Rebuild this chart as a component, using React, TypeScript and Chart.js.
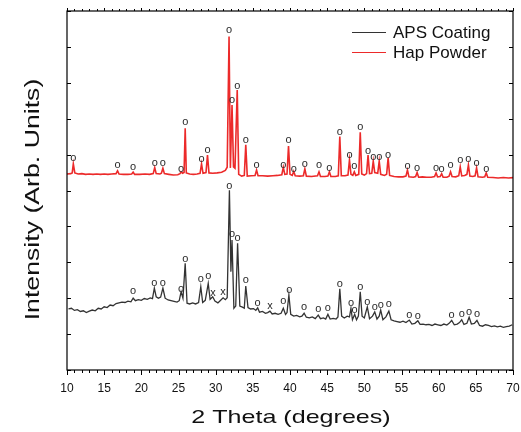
import React, { useEffect, useRef } from "react";
import { Chart, registerables } from "chart.js";

Chart.register(...registerables);

// ---------- data ----------
const xTicksMajor = [10, 15, 20, 25, 30, 35, 40, 45, 50, 55, 60, 65, 70];

const apsTheta = [
  10.2, 10.6, 11.0, 11.4, 11.8, 12.2, 12.6, 13.0, 13.4, 13.8, 14.2, 14.6, 15.0, 15.4, 15.8, 16.2, 16.6, 17.0,
  17.4, 17.8, 18.2, 18.6, 18.9, 19.2, 19.6, 20.0, 20.4, 20.8, 21.2, 21.5, 21.75, 22.0, 22.3, 22.6, 22.9, 23.2,
  23.6, 24.0, 24.4, 24.8, 25.1, 25.35, 25.6, 25.9, 26.15, 26.5, 26.9, 27.3, 27.7, 28.0, 28.25, 28.6, 29.0, 29.25,
  29.6, 29.9, 30.3, 30.6, 31.0, 31.3, 31.55, 31.85, 32.05, 32.2, 32.45, 32.7, 32.95, 33.25, 33.6, 33.85, 34.05,
  34.35, 34.7, 35.1, 35.4, 35.65, 35.9, 36.3, 36.7, 37.0, 37.3, 37.6, 38.0, 38.4, 38.8, 39.1, 39.4, 39.6, 39.85,
  40.1, 40.5, 40.9, 41.3, 41.6, 41.9, 42.2, 42.6, 43.0, 43.4, 43.8, 44.1, 44.5, 44.8, 45.1, 45.4, 45.8, 46.2,
  46.45, 46.7, 46.95, 47.3, 47.7, 48.0, 48.2, 48.4, 48.7, 48.95, 49.2, 49.45, 49.7, 50.0, 50.4, 50.7, 51.1, 51.4,
  51.7, 52.0, 52.2, 52.5, 52.9, 53.3, 53.6, 54.0, 54.4, 54.8, 55.2, 55.6, 56.05, 56.4, 56.8, 57.2, 57.5, 57.9,
  58.3, 58.7, 59.1, 59.5, 59.9, 60.3, 60.7, 61.1, 61.4, 61.75, 62.1, 62.5, 62.8, 63.1, 63.4, 63.8, 64.1, 64.4,
  64.8, 65.15, 65.5, 65.9, 66.3, 66.7, 67.1, 67.5, 67.9, 68.3, 68.7, 69.1, 69.5, 69.9,
];
const apsIntensity = [
  170, 172, 166, 168, 163, 165, 160, 164, 167, 165, 172, 170, 176, 174, 181, 179, 185, 187,
  189, 188, 192, 190, 200, 193, 196, 194, 199, 197, 201, 199, 228, 204, 200, 203, 228, 200,
  195, 193, 191, 189, 193, 218, 200, 297, 186, 184, 187, 184, 188, 232, 188, 194, 241, 197,
  204, 192, 187, 193, 201, 196, 201, 501, 274, 362, 172, 178, 353, 178, 175, 172, 234,
  174, 170, 171, 166, 173, 161, 163, 158, 160, 164, 156, 158, 155, 158, 172, 155, 160, 209,
  155, 150, 152, 148, 150, 158, 147, 145, 148, 143, 153, 143, 145, 142, 155, 142, 144, 142,
  148, 226, 150, 145, 150, 148, 172, 140, 155, 140, 150, 218, 150, 145, 176, 143, 150, 162,
  142, 150, 167, 140, 148, 164, 140, 137, 135, 133, 136, 132, 139, 128, 130, 137, 127, 128,
  126, 127, 124, 128, 126, 124, 128, 125, 130, 138, 126, 128, 132, 140, 127, 130, 147, 128,
  130, 138, 124, 122, 126, 124, 121, 123, 120, 122, 119, 121, 122, 126,
];

const hapTheta = [
  10.0, 10.5, 10.7, 10.85, 11.05, 11.5, 12.0, 12.5, 13.0, 13.5, 14.0, 14.5, 15.0, 15.5, 16.0, 16.6, 16.8, 17.0,
  17.6, 18.2, 18.7, 18.9, 19.1, 19.8, 20.5, 21.1, 21.6, 21.8, 22.0, 22.5, 22.7, 22.9, 23.1, 23.7, 24.3, 24.9,
  25.2, 25.35, 25.55, 25.75, 25.9, 26.05, 26.5, 27.0, 27.5, 27.9, 28.1, 28.3, 28.7, 28.9, 29.1, 29.6, 30.2, 30.8,
  31.3, 31.55, 31.8, 31.98, 32.2, 32.4, 32.6, 32.9, 33.1, 33.5, 33.85, 34.05, 34.25, 34.8, 35.3, 35.5, 35.7, 36.3,
  37.0, 37.7, 38.3, 38.9, 39.1, 39.3, 39.6, 39.8, 40.0, 40.3, 40.5, 40.7, 41.3, 41.8, 42.0, 42.2, 42.9, 43.7,
  43.9, 44.1, 44.7, 45.1, 45.3, 45.5, 46.1, 46.5, 46.7, 46.9, 47.4, 47.8, 48.0, 48.2, 48.45, 48.65, 48.85, 49.25,
  49.45, 49.65, 50.0, 50.3, 50.5, 50.7, 51.0, 51.2, 51.4, 51.8, 52.0, 52.2, 52.7, 53.0, 53.2, 53.4, 54.0, 54.6,
  55.2, 55.6, 55.8, 56.0, 56.6, 56.9, 57.1, 57.3, 57.8, 58.4, 59.0, 59.45, 59.65, 59.85, 60.2, 60.4, 60.6, 61.1,
  61.4, 61.6, 61.8, 62.3, 62.7, 62.9, 63.1, 63.5, 63.8, 64.0, 64.2, 64.6, 64.9, 65.1, 65.3, 65.9, 66.2, 66.4,
  66.6, 67.3, 68.0, 68.7, 69.4, 70.0,
];
const hapIntensity = [
  546, 547, 549, 574, 549, 546, 547, 545, 546, 545, 546, 545, 546, 545, 546, 547, 555, 546,
  545, 545, 546, 551, 545, 545, 546, 545, 547, 564, 547, 546, 548, 562, 547, 545, 543, 544,
  547, 552, 548, 550, 673, 549, 546, 545, 546, 548, 574, 548, 550, 599, 549, 548, 549, 551,
  556, 565, 929, 563, 738, 566, 562, 780, 545, 540, 542, 627, 540, 541, 542, 557, 541, 541,
  540, 541, 542, 544, 565, 545, 546, 624, 545, 542, 553, 541, 540, 541, 560, 540, 539, 541,
  552, 539, 539, 540, 552, 539, 539, 541, 650, 541, 541, 543, 585, 545, 542, 552, 542, 545,
  662, 546, 543, 547, 599, 547, 548, 582, 550, 548, 582, 545, 542, 545, 591, 542, 539, 538,
  538, 540, 557, 538, 537, 539, 550, 537, 538, 537, 537, 539, 549, 538, 539, 547, 537, 537,
  540, 552, 539, 538, 541, 566, 541, 542, 545, 571, 540, 539, 541, 563, 538, 537, 538, 549,
  537, 536, 535, 536, 535, 536,
];

// peak identification marks ("o" = HAp, "x" = other phase)
const hapMarkTheta = [
  10.85, 16.8, 18.9, 21.8, 22.9, 25.35, 25.9, 28.1, 28.9, 31.8, 32.2, 32.9, 34.05, 35.5, 39.1, 39.8, 40.5, 42.0, 43.9,
  45.3, 46.7, 48.0, 48.65, 49.45, 50.5, 51.2, 52.0, 53.2, 55.8, 57.1, 59.65, 60.4, 61.6, 62.9, 64.0, 65.1, 66.4,
];
const hapMarkValue = [
  591, 571, 566, 577, 577, 560, 691, 588, 613, 947, 752, 791, 641, 571, 571, 641, 560, 574, 571,
  563, 663, 599, 568, 677, 610, 593, 593, 599, 568, 563, 563, 560, 571, 585, 588, 577, 560,
];
const apsMarkTheta = [
  18.9, 21.75, 22.9, 25.35, 25.9, 28.0, 29.0, 29.65, 31.0, 31.85, 32.2, 32.95, 34.05, 35.65, 37.3, 39.1, 39.9, 41.9,
  43.8, 45.1, 46.7, 48.2, 48.7, 49.45, 50.4, 51.4, 52.2, 53.3, 56.05, 57.2, 61.75, 63.1, 64.1, 65.15,
];
const apsMarkValue = [
  220, 243, 243, 226, 309, 254, 262, 215, 217, 513, 379, 369, 251, 187, 178, 192, 223, 176,
  170, 173, 240, 187, 168, 231, 189, 176, 180, 184, 154, 150, 154, 156, 162, 156,
];
const apsMarkSymbol = [
  "o", "o", "o", "o", "o", "o", "o", "x", "x", "o", "o", "o", "o", "o", "x", "o", "o", "o",
  "o", "o", "o", "o", "o", "o", "o", "o", "o", "o", "o", "o", "o", "o", "o", "o",
];

const seriesNames = ["APS Coating", "Hap Powder"];
const seriesColors = ["#333333", "#ec2a2a"];
const xTitle = "2 Theta (degrees)";
const yTitle = "Intensity (Arb. Units)";

const FONT = "'Liberation Sans', Arial, sans-serif";

const decorPlugin = {
  id: "decor",
  afterDatasetsDraw(chart: any) {
    const ctx = chart.ctx;
    const xs = chart.scales.x;
    const ys = chart.scales.y;
    ctx.save();
    ctx.font = `11px ${FONT}`;
    ctx.fillStyle = "#2a2a2a";
    ctx.textAlign = "center";
    ctx.textBaseline = "middle";
    hapMarkTheta.forEach((t, i) => {
      ctx.fillText("o", xs.getPixelForValue(t), ys.getPixelForValue(hapMarkValue[i]));
    });
    apsMarkTheta.forEach((t, i) => {
      ctx.fillText(apsMarkSymbol[i], xs.getPixelForValue(t), ys.getPixelForValue(apsMarkValue[i]));
    });
    ctx.restore();
  },
  afterDraw(chart: any) {
    const ctx = chart.ctx;
    const xs = chart.scales.x;
    const ys = chart.scales.y;
    const { left, right, top, bottom } = chart.chartArea;
    ctx.save();
    ctx.strokeStyle = "#000";
    ctx.lineWidth = 1.2;
    ctx.strokeRect(left, top, right - left, bottom - top);
    ctx.lineWidth = 1;
    ctx.beginPath();
    for (let v = 10; v <= 70; v += 1) {
      const px = Math.round(xs.getPixelForValue(v)) + 0.5;
      const major = xTicksMajor.includes(v);
      ctx.moveTo(px, bottom);
      ctx.lineTo(px, bottom + (major ? 5 : 3));
      ctx.moveTo(px, top);
      ctx.lineTo(px, top - (major ? 3 : 2));
    }
    for (let v = 0; v <= 1000; v += 100) {
      const py = Math.round(ys.getPixelForValue(v)) + 0.5;
      ctx.moveTo(left, py);
      ctx.lineTo(left + 4, py);
      ctx.moveTo(right, py);
      ctx.lineTo(right - 4, py);
    }
    ctx.stroke();

    // legend
    const lx0 = right - 161;
    const lx1 = right - 127;
    const lyFirst = top + 21;
    seriesNames.forEach((name, i) => {
      const y = lyFirst + i * 20;
      ctx.strokeStyle = seriesColors[i];
      ctx.lineWidth = 1.2;
      ctx.beginPath();
      ctx.moveTo(lx0, y + 0.5);
      ctx.lineTo(lx1, y + 0.5);
      ctx.stroke();
      ctx.fillStyle = "#111";
      ctx.font = `17px ${FONT}`;
      ctx.textAlign = "left";
      ctx.textBaseline = "alphabetic";
      ctx.fillText(name, lx1 + 7, y + 6);
    });

    // axis titles
    ctx.fillStyle = "#111";
    ctx.textAlign = "center";
    ctx.textBaseline = "alphabetic";
    ctx.save();
    ctx.translate((left + right) / 2 + 1, bottom + 53);
    ctx.scale(1.32, 1);
    ctx.font = `19px ${FONT}`;
    ctx.fillText(xTitle, 0, 0);
    ctx.restore();
    ctx.save();
    ctx.translate(39, (top + bottom) / 2 + 9);
    ctx.rotate(-Math.PI / 2);
    ctx.scale(1.27, 1);
    ctx.font = `21px ${FONT}`;
    ctx.fillText(yTitle, 0, 0);
    ctx.restore();
    ctx.restore();
  },
};

export default function App() {
  const ref = useRef<HTMLCanvasElement | null>(null);
  useEffect(() => {
    document.body.style.margin = "0";
    if (!ref.current) return;
    const chart = new Chart(ref.current, {
      type: "line",
      data: {
        datasets: [
          {
            label: seriesNames[0],
            data: apsTheta.map((t, i) => ({ x: t, y: apsIntensity[i] })),
            borderColor: seriesColors[0],
            borderWidth: 1.3,
            pointRadius: 0,
            tension: 0,
          },
          {
            label: seriesNames[1],
            data: hapTheta.map((t, i) => ({ x: t, y: hapIntensity[i] })),
            borderColor: seriesColors[1],
            borderWidth: 1.6,
            pointRadius: 0,
            tension: 0,
          },
        ],
      },
      options: {
        animation: false,
        responsive: false,
        devicePixelRatio: 1,
        layout: { padding: { left: 67, right: 8, top: 11, bottom: 0 } },
        plugins: { legend: { display: false }, tooltip: { enabled: false } },
        scales: {
          x: {
            type: "linear",
            min: 10,
            max: 70,
            grid: { display: false, drawTicks: false },
            border: { display: false },
            ticks: {
              stepSize: 5,
              padding: 11,
              color: "#111",
              font: { size: 12, family: FONT },
              maxRotation: 0,
              autoSkip: false,
            },
            afterFit: (s: any) => {
              s.height = 62;
              s.paddingLeft = 0;
              s.paddingRight = 0;
            },
          },
          y: { display: false, min: 0, max: 1000 },
        },
      },
      plugins: [decorPlugin],
    });
    return () => chart.destroy();
  }, []);
  return <canvas ref={ref} width={521} height={432} style={{ display: "block", width: 521, height: 432 }} />;
}
